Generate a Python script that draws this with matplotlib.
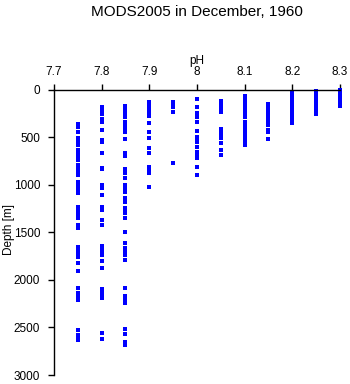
import matplotlib
matplotlib.use("Agg")
import matplotlib.pyplot as plt

# depth [m] of each observation, grouped by pH value
ph_values = [7.75, 7.8, 7.85, 7.9, 7.95, 8.0, 8.05, 8.1, 8.15, 8.2, 8.25, 8.3]

d_775 = [361, 386, 439, 509, 544, 579, 632, 667, 702, 737, 790, 825, 860, 895,
         965, 1000, 1035, 1070, 1088, 1228, 1263, 1298, 1333, 1351, 1421, 1440,
         1456, 1656, 1690, 1720, 1761, 1818, 1905, 2088, 2134, 2170, 2211, 2527,
         2580, 2610, 2633]
d_78 = [176, 195, 218, 256, 309, 333, 421, 526, 544, 667, 818, 835, 1000, 1035,
        1105, 1228, 1263, 1368, 1421, 1642, 1680, 1710, 1737, 1797, 1878, 2099,
        2125, 2148, 2193, 2562, 2622]
d_785 = [168, 185, 200, 215, 230, 245, 260, 281, 333, 358, 404, 439, 519, 660,
         695, 835, 856, 877, 930, 1000, 1035, 1070, 1140, 1176, 1246, 1270, 1298,
         1344, 1498, 1614, 1664, 1700, 1737, 1790, 2088, 2169, 2200, 2239, 2517,
         2572, 2650, 2685]
d_79 = [130, 150, 176, 211, 235, 255, 274, 351, 439, 509, 614, 667, 807, 840,
        877, 1025]
d_795 = [123, 147, 176, 235, 772]
d_80 = [95, 183, 246, 265, 281, 340, 428, 498, 520, 544, 604, 649, 680, 700,
        719, 814, 898]
d_805 = [116, 140, 176, 195, 215, 235, 414, 440, 467, 509, 561, 635, 681]
d_81 = [63, 80, 95, 110, 125, 140, 155, 170, 185, 200, 215, 230, 245, 260, 275,
        288, 333, 350, 365, 380, 395, 410, 425, 440, 455, 470, 485, 500, 515,
        530, 545, 560, 579]
d_815 = [147, 165, 180, 195, 210, 225, 240, 255, 270, 285, 300, 315, 330, 345,
         369, 421, 446, 512]
d_82 = [28, 40, 52, 64, 76, 88, 100, 112, 124, 136, 148, 160, 172, 184, 196,
        208, 220, 232, 244, 256, 268, 280, 292, 304, 316, 328, 344]
d_825 = [7, 20, 32, 44, 56, 68, 80, 92, 104, 116, 128, 140, 152, 164, 176, 188,
         200, 212, 224, 236, 253]
d_83 = [0, 12, 24, 36, 48, 60, 72, 84, 96, 108, 120, 132, 144, 156, 165]

depths = [d_775, d_78, d_785, d_79, d_795, d_80, d_805, d_81, d_815, d_82,
          d_825, d_83]

x_ticks = [7.7, 7.8, 7.9, 8.0, 8.1, 8.2, 8.3]
x_labels = ["7.7", "7.8", "7.9", "8", "8.1", "8.2", "8.3"]
y_ticks = [0, 500, 1000, 1500, 2000, 2500, 3000]

plt.rcParams["font.family"] = ["Liberation Sans", "DejaVu Sans"]

fig = plt.figure(figsize=(3.5, 3.84), dpi=100)
ax = fig.add_axes([0.154, 0.0234, 0.817, 0.7426])

for ph, d in zip(ph_values, depths):
    ax.plot([ph] * len(d), d, linestyle="none", marker="s", markersize=2.3,
            markeredgewidth=0, color="#0000ff", clip_on=False,
            antialiased=False)

ax.set_xlim(7.7, 8.3)
ax.set_ylim(3000, 0)
ax.xaxis.tick_top()
ax.xaxis.set_label_position("top")
ax.set_xticks(x_ticks)
ax.set_xticklabels(x_labels)
ax.set_yticks(y_ticks)
ax.tick_params(axis="both", direction="out", length=4.3, width=1, labelsize=8.5,
               colors="black")
ax.tick_params(axis="x", pad=4)
ax.tick_params(axis="y", pad=5.5)
ax.set_xlabel("pH", fontsize=8.5, labelpad=2)
ax.set_ylabel("Depth [m]", fontsize=8.5, va="center")
ax.yaxis.set_label_coords(-0.158, 0.51)

for side in ("right", "bottom"):
    ax.spines[side].set_visible(False)
for side in ("left", "top"):
    ax.spines[side].set_linewidth(1)

fig.text(0.563, 0.968, "MODS2005 in December, 1960", ha="center", va="center",
         fontsize=11)

fig.savefig("out.png", dpi=100)
